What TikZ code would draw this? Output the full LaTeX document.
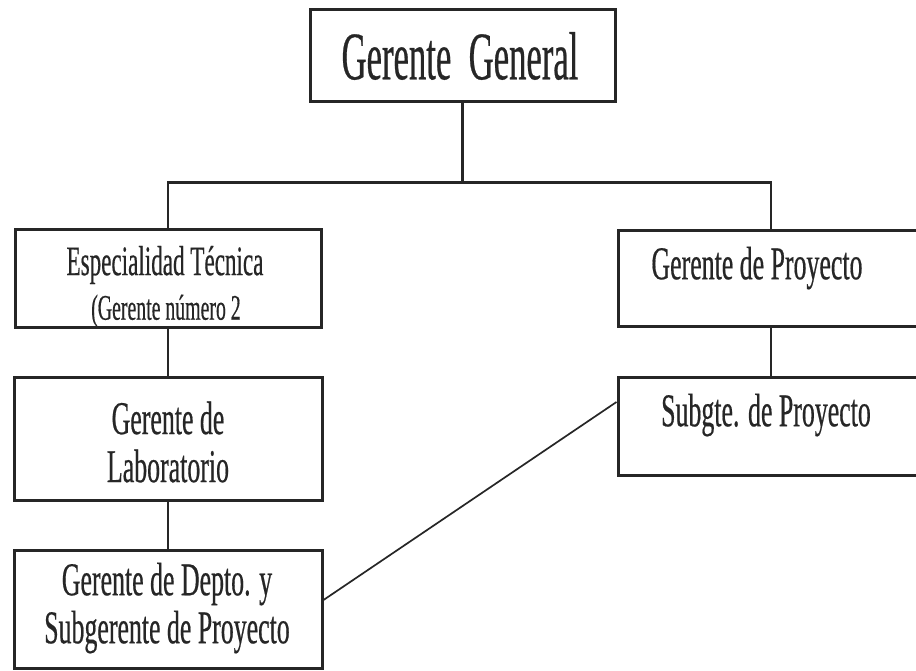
\documentclass[tikz,border=0pt]{standalone}
\usepackage{fontspec}
\setmainfont{Liberation Serif}[FakeStretch=0.55,FakeBold=0.4]
\newfontfamily\bigfont{Liberation Serif}[FakeStretch=0.51,FakeBold=0.4]
\usetikzlibrary{calc}
\begin{document}
\begin{tikzpicture}[x=1pt,y=-1pt,
  box/.style={draw=black!85, line width=3pt, fill=white, inner sep=0pt},
  lbl/.style={inner sep=0pt, align=center, text=black!85},
  conn/.style={draw=black!85, line width=2.2pt},
  big/.style={font=\bigfont\fontsize{68}{70}\selectfont},
  mid/.style={font=\fontsize{47}{50}\selectfont}]
\useasboundingbox[fill=white] (0,0) rectangle (916,671);
% boxes
\node[box, minimum width=305pt, minimum height=92pt] (gg) at (462.5,56) {};
\node[box, minimum width=306pt, minimum height=97pt] (et) at (168,278.5) {};
\node[box, minimum width=306pt, minimum height=95pt] (gp) at (771,278.5) {};
\node[box, minimum width=306pt, minimum height=98pt] (sg) at (771,426) {};
\node[box, minimum width=308pt, minimum height=123pt] (lab) at (168,438.5) {};
\node[box, minimum width=308pt, minimum height=118pt] (dep) at (168,609) {};
% labels
\node[lbl, big] (ggt) at (460,56) {Gerente\ \ General};
\node[lbl, font=\fontsize{42}{44}\selectfont] (ett1) at (165,265) {Especialidad Técnica};
\node[lbl, font=\fontsize{36}{38}\selectfont] (ett2) at (166,311) {(Gerente número 2};
\node[lbl, mid] (gpt) at (757,268) {Gerente de Proyecto};
\node[lbl, mid] (sgt) at (766,415) {Subgte. de Proyecto};
\node[lbl, mid] (labt) at (168,442) {Gerente de\\[-2pt]Laboratorio};
\node[lbl, mid] (dept) at (167,608) {Gerente de Depto. y\\[-2pt]Subgerente de Proyecto};
% connectors
\path (gg.south) ++(0,79) coordinate (bar);
\draw[conn] (gg.south) -- (bar);
\draw[conn] (et.north) |- (bar) -| (gp.north);
\draw[conn] (et.south) -- (lab.north);
\draw[conn] (lab.south) -- (dep.north);
\draw[conn] (gp.south) -- (sg.north);
\draw[conn, line width=1.7pt] ($(dep.east)+(0,-9)$) -- ($(sg.west)+(0,-24)$);
\end{tikzpicture}
\end{document}
